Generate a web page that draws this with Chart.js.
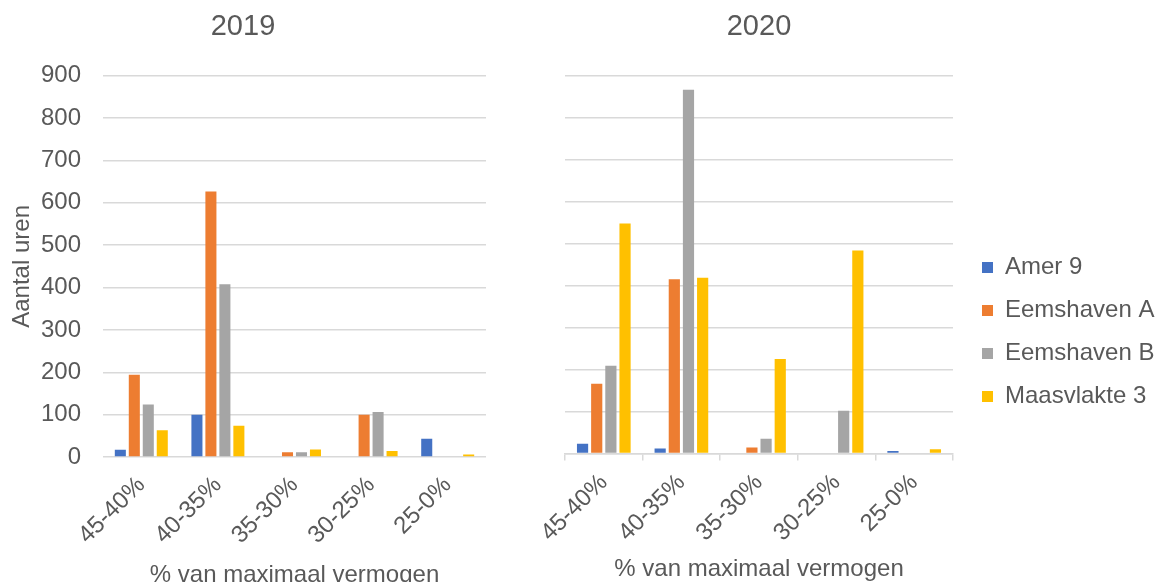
<!DOCTYPE html>
<html>
<head>
<meta charset="utf-8">
<title>Aantal uren per vermogensklasse</title>
<script src="https://cdn.jsdelivr.net/npm/chart.js@4.4.1/dist/chart.umd.min.js"></script>
<style>
  html, body { margin: 0; padding: 0; background: #ffffff; overflow: hidden; width: 1155px; height: 582px; }
  .panel { position: absolute; top: 0; }
  #panel2019 { left: 0; width: 492px; height: 592px; }
  #panel2020 { left: 520px; width: 474px; height: 592px; }
  #panelLegend { left: 963px; top: 232px; width: 440px; height: 200px; }
</style>
</head>
<body>
<div class="panel" id="panel2019"><canvas id="chart2019"></canvas></div>
<div class="panel" id="panel2020"><canvas id="chart2020"></canvas></div>
<div class="panel" id="panelLegend"><canvas id="chartLegend"></canvas></div>
<script>
// Vermogensklassen (x-as)
const categories = ['45-40%', '40-35%', '35-30%', '30-25%', '25-0%'];

// Centrales en hun kleuren
const seriesNames = ['Amer 9', 'Eemshaven A', 'Eemshaven B', 'Maasvlakte 3'];
const seriesColors = ['#4472C4', '#ED7D31', '#A5A5A5', '#FFC000'];

// Aantal uren per klasse, 2019
const amer9_2019 = [17, 100, 0, 0, 43];
const eemshavenA_2019 = [194, 627, 11, 100, 0];
const eemshavenB_2019 = [124, 408, 11, 106, 0];
const maasvlakte3_2019 = [63, 74, 18, 14, 6];

// Aantal uren per klasse, 2020
const amer9_2020 = [23, 12, 2, 2, 6];
const eemshavenA_2020 = [166, 415, 14, 0, 0];
const eemshavenB_2020 = [209, 867, 35, 102, 0];
const maasvlakte3_2020 = [548, 419, 225, 484, 10];

// Y-as
const yMin = 0;
const yMax = 900;
const yStep = 100;

const FONT_FAMILY = "'Liberation Sans', Arial, Helvetica, sans-serif";
const TEXT_COLOR = '#595959';
const GRID_COLOR = '#d9d9d9';
const LABEL_SIZE = 24;
const TITLE_SIZE = 29;

function makeDatasets(valueLists) {
  return valueLists.map((values, i) => ({
    label: seriesNames[i],
    data: values,
    backgroundColor: seriesColors[i],
    borderWidth: 0,
    categoryPercentage: 0.73,
    barPercentage: 0.79
  }));
}

function panelOptions(cfg) {
  return {
    responsive: true,
    maintainAspectRatio: false,
    animation: false,
    layout: { padding: { left: 0, right: cfg.padRight, top: 0, bottom: 0 } },
    plugins: {
      legend: { display: false },
      tooltip: { enabled: false },
      title: {
        display: true,
        text: cfg.title,
        fullSize: cfg.titleFullSize,
        color: TEXT_COLOR,
        font: { family: FONT_FAMILY, size: TITLE_SIZE, weight: 'normal' },
        padding: { top: 10, bottom: 31 }
      }
    },
    scales: {
      x: {
        afterFit: (scale) => { scale.height = cfg.xHeight; },
        grid: {
          display: cfg.xTicks,
          drawOnChartArea: false,
          drawTicks: cfg.xTicks,
          tickLength: 7,
          color: GRID_COLOR,
          lineWidth: 1.5
        },
        border: { display: cfg.xTicks, color: GRID_COLOR, width: 1.5 },
        ticks: {
          color: TEXT_COLOR,
          font: { family: FONT_FAMILY, size: LABEL_SIZE },
          minRotation: 45,
          maxRotation: 45,
          padding: cfg.xTickPad,
          autoSkip: false
        },
        title: {
          display: true,
          text: '% van maximaal vermogen',
          color: TEXT_COLOR,
          font: { family: FONT_FAMILY, size: LABEL_SIZE },
          padding: { top: 0, bottom: cfg.xTitlePad }
        }
      },
      y: {
        min: yMin,
        max: yMax,
        afterFit: (scale) => { scale.width = cfg.yWidth; },
        grid: { color: GRID_COLOR, lineWidth: 1.5, drawTicks: false },
        border: { display: false },
        ticks: {
          display: cfg.yLabels,
          stepSize: yStep,
          color: TEXT_COLOR,
          font: { family: FONT_FAMILY, size: LABEL_SIZE },
          padding: 22
        },
        title: {
          display: cfg.yLabels,
          text: 'Aantal uren',
          color: TEXT_COLOR,
          font: { family: FONT_FAMILY, size: LABEL_SIZE },
          padding: { top: 8, bottom: 0 }
        }
      }
    }
  };
}

new Chart(document.getElementById('chart2019'), {
  type: 'bar',
  data: {
    labels: categories,
    datasets: makeDatasets([amer9_2019, eemshavenA_2019, eemshavenB_2019, maasvlakte3_2019])
  },
  options: panelOptions({
    title: '2019', titleFullSize: true, padRight: 6, xHeight: 135, yWidth: 103,
    xTicks: false, xTickPad: 14, xTitlePad: 2, yLabels: true
  })
});

new Chart(document.getElementById('chart2020'), {
  type: 'bar',
  data: {
    labels: categories,
    datasets: makeDatasets([amer9_2020, eemshavenA_2020, eemshavenB_2020, maasvlakte3_2020])
  },
  options: panelOptions({
    title: '2020', titleFullSize: false, padRight: 41, xHeight: 138.5, yWidth: 45,
    xTicks: true, xTickPad: 8, xTitlePad: 8, yLabels: false
  })
});

// Gedeelde legenda rechts naast beide grafieken
new Chart(document.getElementById('chartLegend'), {
  type: 'bar',
  data: {
    labels: [],
    datasets: seriesNames.map((name, i) => ({ label: name, data: [], backgroundColor: seriesColors[i] }))
  },
  options: {
    responsive: true,
    maintainAspectRatio: false,
    animation: false,
    layout: { padding: 0 },
    scales: { x: { display: false }, y: { display: false } },
    plugins: {
      tooltip: { enabled: false },
      legend: {
        position: 'left',
        align: 'center',
        labels: {
          boxWidth: 11,
          boxHeight: 11,
          padding: 19,
          color: TEXT_COLOR,
          font: { family: FONT_FAMILY, size: LABEL_SIZE }
        }
      }
    }
  }
});
</script>
</body>
</html>
